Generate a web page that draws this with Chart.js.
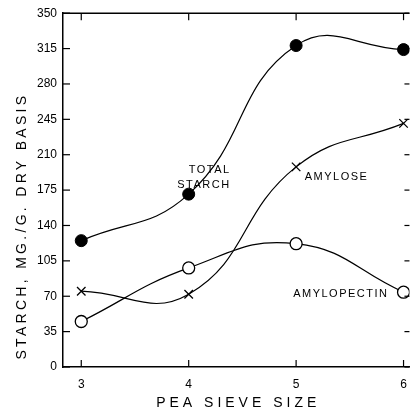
<!DOCTYPE html>
<html><head><meta charset="utf-8">
<script src="https://cdn.jsdelivr.net/npm/chart.js@4/dist/chart.umd.min.js"></script>
<style>html,body{margin:0;padding:0;background:#fff}#wrap{width:417px;height:412px}</style>
</head><body><div id="wrap"><canvas id="c" width="417" height="412"></canvas></div>
<script>
const sieveSizes = [3, 4, 5, 6];
const totalStarch = [125, 171, 318, 314];
const amylose = [75, 72, 198, 241];
const amylopectin = [45, 98, 122, 74];
const yTicks = [0, 35, 70, 105, 140, 175, 210, 245, 280, 315, 350];
const xTitle = 'PEA SIEVE SIZE';
const yTitle = 'STARCH, MG./G. DRY BASIS';
const seriesLabels = [
  {lines: ['TOTAL', 'STARCH'], x: 4.39, y: [195, 180], align: 'right'},
  {lines: ['AMYLOSE'], x: 5.08, y: [188], align: 'left'},
  {lines: ['AMYLOPECTIN'], x: 5.86, y: [72], align: 'right'}
];

const pts = arr => sieveSizes.map((x, i) => ({x, y: arr[i]}));
const FONT = '"Liberation Sans", Arial, sans-serif';

const decor = {
  id: 'decor',
  afterDraw(chart) {
    const {ctx, chartArea: a, scales: {x, y}} = chart;
    ctx.save();
    ctx.strokeStyle = '#000';
    ctx.lineWidth = 1.5;
    // top border
    ctx.beginPath(); ctx.moveTo(a.left, a.top); ctx.lineTo(a.right, a.top); ctx.stroke();
    ctx.lineWidth = 1.2;
    // x ticks (bottom, inward; top, inward)
    sieveSizes.forEach(v => {
      const px = x.getPixelForValue(v);
      ctx.beginPath(); ctx.moveTo(px, a.bottom); ctx.lineTo(px, a.bottom - 7); ctx.stroke();
      ctx.beginPath(); ctx.moveTo(px, a.top); ctx.lineTo(px, a.top + 7); ctx.stroke();
    });
    // y ticks left inward and right
    yTicks.forEach(v => {
      const py = y.getPixelForValue(v);
      ctx.beginPath(); ctx.moveTo(a.left, py); ctx.lineTo(a.left + 7, py); ctx.stroke();
      ctx.beginPath(); ctx.moveTo(a.right, py); ctx.lineTo(a.right - 5, py); ctx.stroke();
    });
    // series labels
    ctx.fillStyle = '#000';
    ctx.font = '11px ' + FONT;
    ctx.letterSpacing = '1.5px';
    ctx.textBaseline = 'middle';
    seriesLabels.forEach(l => {
      ctx.textAlign = l.align;
      l.lines.forEach((t, i) => ctx.fillText(t, x.getPixelForValue(l.x), y.getPixelForValue(l.y[i])));
    });
    // axis titles
    ctx.font = '14px ' + FONT;
    ctx.letterSpacing = '4px';
    ctx.textAlign = 'center';
    ctx.fillText(xTitle, (a.left + a.right) / 2 + 2, 403);
    ctx.translate(22, (a.top + a.bottom) / 2 + 36);
    ctx.rotate(-Math.PI / 2);
    ctx.letterSpacing = '3.3px';
    ctx.fillText(yTitle, 0, 0);
    ctx.restore();
  }
};

const common = {
  borderColor: '#000', borderWidth: 1.2, tension: 0.45, fill: false,
  pointBorderColor: '#000', pointRadius: 6, pointHoverRadius: 6
};

new Chart(document.getElementById('c'), {
  type: 'line',
  data: {
    datasets: [
      Object.assign({}, common, {label: 'Total starch', data: pts(totalStarch), pointStyle: 'circle', pointBackgroundColor: '#000', pointBorderWidth: 1}),
      Object.assign({}, common, {label: 'Amylose', data: pts(amylose), pointStyle: 'crossRot', pointRadius: 6, pointBorderWidth: 1.3}),
      Object.assign({}, common, {label: 'Amylopectin', data: pts(amylopectin), pointStyle: 'circle', pointBackgroundColor: '#fff', pointBorderWidth: 1.3})
    ]
  },
  options: {
    responsive: false, animation: false, events: [],
    layout: {padding: {top: 13, right: 5, left: 0, bottom: 0}},
    plugins: {legend: {display: false}, tooltip: {enabled: false}},
    scales: {
      x: {
        type: 'linear', min: 2.83, max: 6.055,
        afterBuildTicks: s => { s.ticks = sieveSizes.map(v => ({value: v})); },
        afterFit: s => { s.height = 45; },
        grid: {display: false, drawTicks: false},
        border: {display: true, color: '#000', width: 1.5},
        ticks: {color: '#000', font: {family: FONT, size: 12}, padding: 10, callback: v => String(v)}
      },
      y: {
        type: 'linear', min: 0, max: 350,
        afterBuildTicks: s => { s.ticks = yTicks.map(v => ({value: v})); },
        afterFit: s => { s.width = 63; },
        grid: {display: false, drawTicks: false},
        border: {display: true, color: '#000', width: 1.5},
        ticks: {color: '#000', font: {family: FONT, size: 12}, padding: 6, callback: v => String(v)}
      }
    }
  },
  plugins: [decor]
});
</script></body></html>
